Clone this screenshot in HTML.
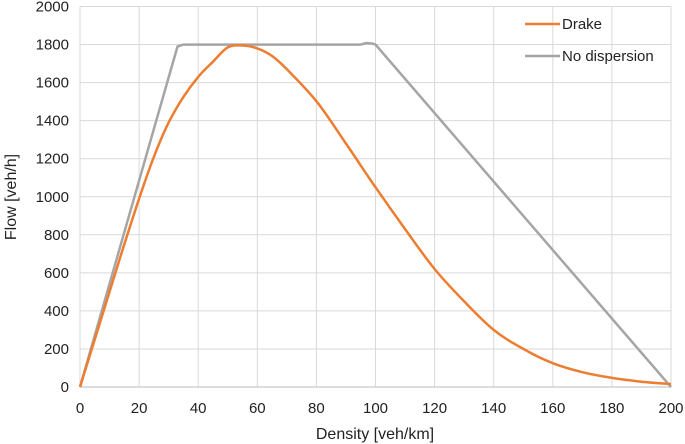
<!DOCTYPE html>
<html><head><meta charset="utf-8"><style>
html,body{margin:0;padding:0;background:#fff;}
svg{display:block;font-family:"Liberation Sans",sans-serif;}
</style></head><body>
<svg id="chart" width="685" height="444"></svg>
<script>
const xTicks=[0,20,40,60,80,100,120,140,160,180,200];
const yTicks=[0,200,400,600,800,1000,1200,1400,1600,1800,2000];
const drakeX=[0,10,15,20,25,30,35,40,45,50,55,60,65,70,80,90,100,110,120,130,140,150,160,170,180,190,200];
const drakeY=[0,500,750,990,1210,1390,1525,1630,1710,1785,1795,1780,1740,1670,1502,1280,1050,830,620,450,300,200,125,78,48,28,15];
const noDispX=[0,33,35,95,97,99,100,200];
const noDispY=[0,1790,1800,1800,1808,1805,1800,0];
const L=80,R=671,T=6.5,B=387;
const sx=v=>L+(v/200)*(R-L), sy=v=>B-(v/2000)*(B-T);
const svg=document.getElementById('chart');const NS='http://www.w3.org/2000/svg';
function mk(t,a,p){const e=document.createElementNS(NS,t);for(const k in a)e.setAttribute(k,a[k]);(p||svg).appendChild(e);return e;}
const grid=mk('g',{});


xTicks.forEach(v=>{const l=mk('line',{x1:sx(v),x2:sx(v),y1:T,y2:B,stroke:'#d9d9d9','stroke-width':1},grid);


const t=mk('text',{x:sx(v),y:413,'text-anchor':'middle','font-size':15,fill:'#222'});t.textContent=v;

});
yTicks.forEach(v=>{const l=mk('line',{x1:L,x2:R,y1:sy(v),y2:sy(v),stroke:'#d9d9d9','stroke-width':1},grid);


const t=mk('text',{x:69,y:sy(v)+5,'text-anchor':'end','font-size':15,fill:'#222'});t.textContent=v;

});
const ax=mk('line',{x1:L,x2:R,y1:B,y2:B,stroke:'#d0d0d0','stroke-width':1.5});


function path(xs,ys,c,name,smooth){const P=xs.map((x,i)=>[sx(x),sy(ys[i])]);
let d='M'+P[0][0].toFixed(1)+','+P[0][1].toFixed(1);
for(let i=1;i<P.length;i++){
 if(!smooth){d+=' L'+P[i][0].toFixed(1)+','+P[i][1].toFixed(1);continue;}
 const p0=P[Math.max(i-2,0)],p1=P[i-1],p2=P[i],p3=P[Math.min(i+1,P.length-1)];
 const c1=[p1[0]+(p2[0]-p0[0])/6,p1[1]+(p2[1]-p0[1])/6],c2=[p2[0]-(p3[0]-p1[0])/6,p2[1]-(p3[1]-p1[1])/6];
 d+=' C'+c1.map(v=>v.toFixed(1))+' '+c2.map(v=>v.toFixed(1))+' '+p2.map(v=>v.toFixed(1));}
const p=mk('path',{d:d,fill:'none',stroke:c,'stroke-width':2.5,'stroke-linejoin':'round'});

}
path(noDispX,noDispY,'#a5a5a5','no-dispersion-line',false);
path(drakeX,drakeY,'#ed7d31','drake-line',true);
const xt=mk('text',{x:375,y:439,'text-anchor':'middle','font-size':16,fill:'#222'});xt.textContent='Density [veh/km]';


const yt=mk('text',{x:0,y:0,'text-anchor':'middle','font-size':16,fill:'#222',transform:'translate(16,197) rotate(-90)'});yt.textContent='Flow [veh/h]';


[['Drake','#ed7d31',24],['No dispersion','#a5a5a5',56]].forEach(([n,c,y])=>{
const g=mk('g',{});


mk('line',{x1:525,x2:560,y1:y,y2:y,stroke:c,'stroke-width':2.5},g);
const t=mk('text',{x:562,y:y+5,'font-size':15,fill:'#222'},g);t.textContent=n;});
</script>
</body></html>
